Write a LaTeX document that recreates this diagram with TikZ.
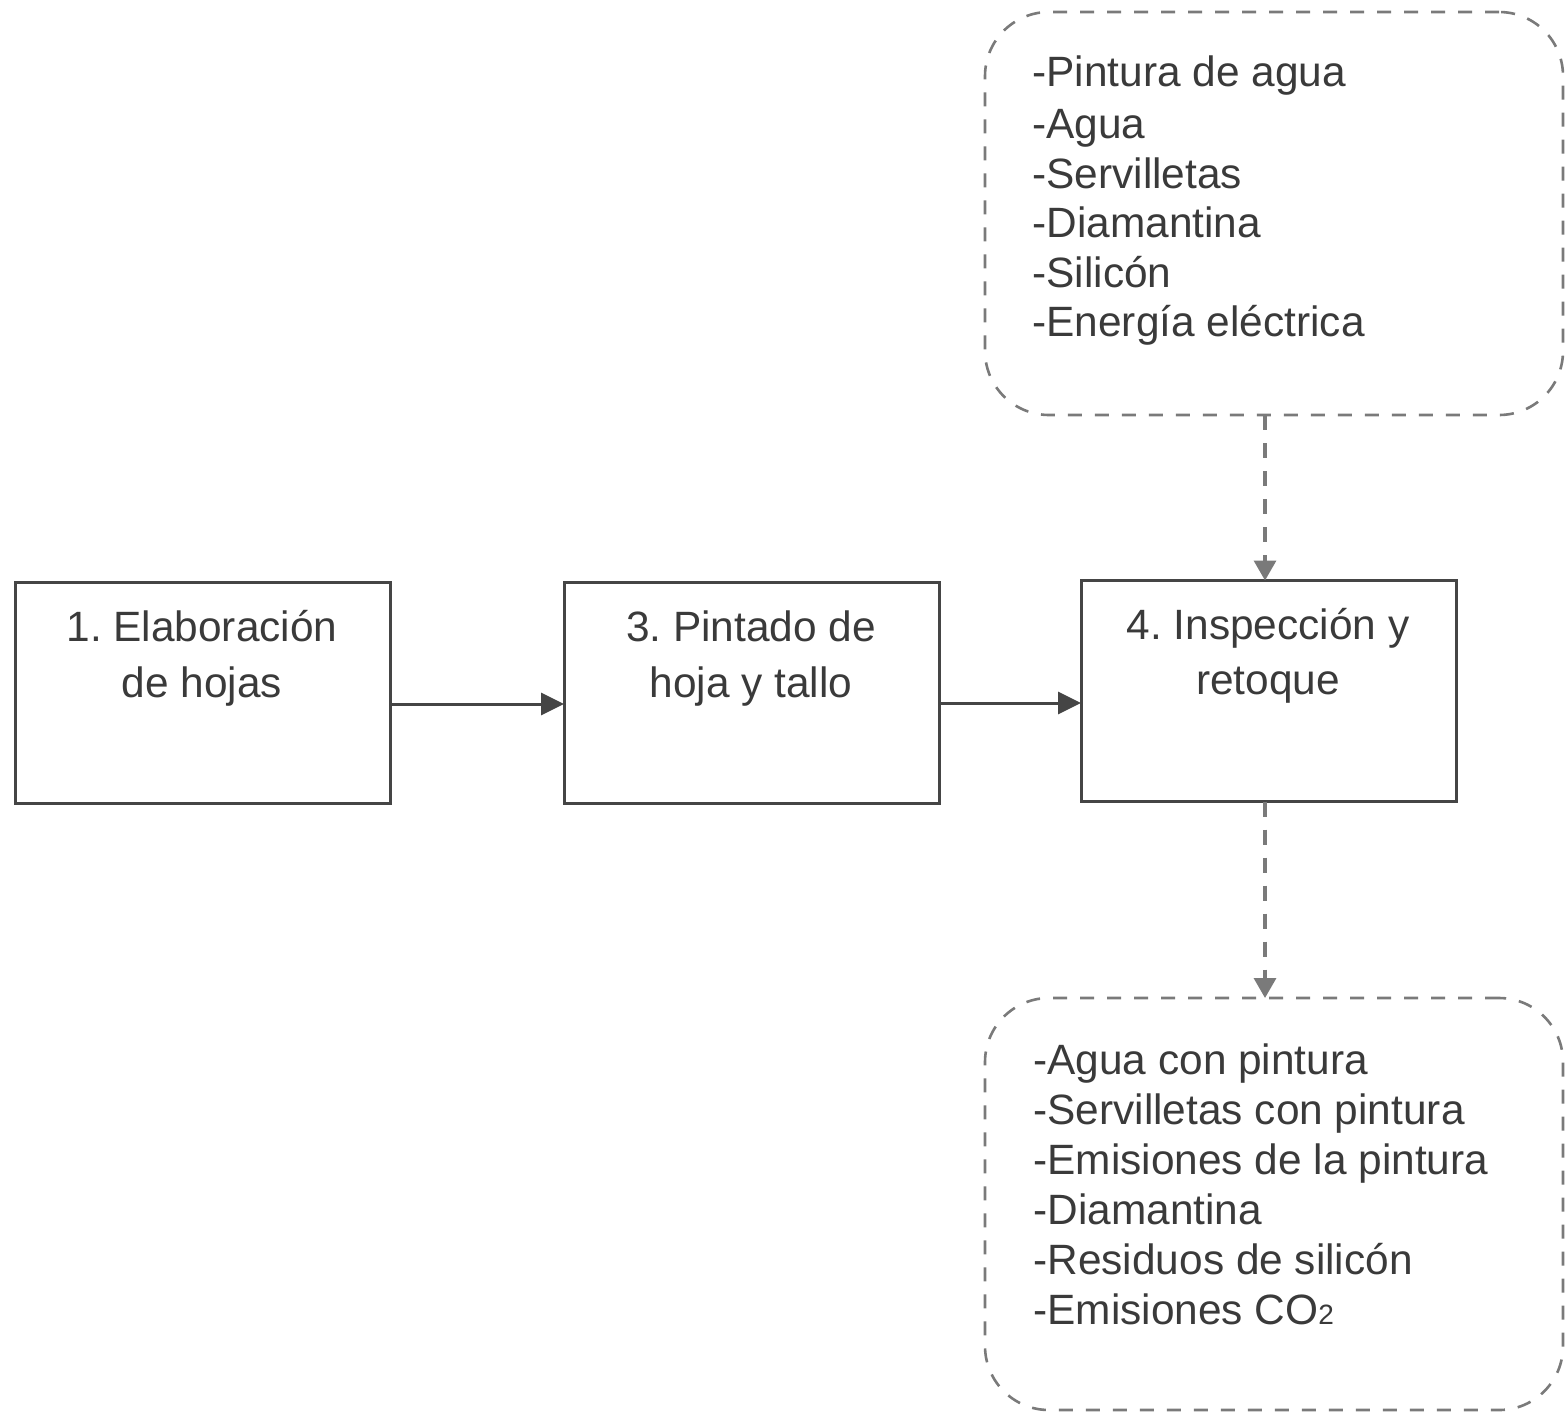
\documentclass[tikz,border=0pt]{standalone}
\usepackage{fontspec}
\setmainfont{Liberation Sans}
\usetikzlibrary{arrows.meta}
\definecolor{ink}{HTML}{3A3A3A}
\definecolor{boxline}{HTML}{454545}
\definecolor{dashgray}{HTML}{7A7A7A}
\frenchspacing
\tikzset{
  procbox/.style={draw=boxline, line width=1.5pt, minimum width=187.5pt, minimum height=110.5pt, inner sep=0pt, outer sep=0pt},
  listbox/.style={draw=dashgray, line width=1.3pt, dash pattern=on 7pt off 6.5pt, rounded corners=32pt, minimum width=289pt, inner sep=0pt, outer sep=0pt},
  txt/.style={font=\fontsize{21.2pt}{25pt}\selectfont, text=ink, inner sep=0pt, anchor=base},
  ltxt/.style={txt, anchor=base west},
  solidarr/.style={draw=boxline, line width=1.5pt, -{Triangle[length=11.5pt, width=11pt]}},
  dasharr/.style={draw=dashgray, line width=1.7pt, dash pattern=on 7.5pt off 6.5pt, -{Triangle[length=10pt, width=11pt]}}
}
\begin{document}
\begin{tikzpicture}[x=0.5pt, y=-0.5pt]
\useasboundingbox (0,0) rectangle (1567,1413);
% process boxes
\node[procbox] (b1) at (202.5,693) {};
\node[procbox] (b3) at (751.5,692.5) {};
\node[procbox] (b4) at (1268.5,691) {};
\node[txt] (b1a) at (202,641) {1. Elaboración};
\node[txt] (b1b) at (202,697) {de hojas};
\node[txt] (b3a) at (751,641) {3. Pintado de};
\node[txt] (b3b) at (751,697) {hoja y tallo};
\node[txt] (b4a) at (1268,639) {4. Inspección y};
\node[txt] (b4b) at (1268,694) {retoque};
% input box
\node[listbox, minimum height=201.5pt] (inb) at (1274,213.5) {};
\node[ltxt] (i1) at (1032,87) {-Pintura de agua};
\node[ltxt] (i2) at (1032,138) {-Agua};
\node[ltxt] (i3) at (1032,188) {-Servilletas};
\node[ltxt] (i4) at (1032,237) {-Diamantina};
\node[ltxt] (i5) at (1032,287) {-Silicón};
\node[ltxt] (i6) at (1032,336) {-Energía eléctrica};
% output box
\node[listbox, minimum height=206pt] (outb) at (1274,1204) {};
\node[ltxt] (o1) at (1033,1074) {-Agua con pintura};
\node[ltxt] (o2) at (1033,1124) {-Servilletas con pintura};
\node[ltxt] (o3) at (1033,1174) {-Emisiones de la pintura};
\node[ltxt] (o4) at (1033,1224) {-Diamantina};
\node[ltxt] (o5) at (1033,1274) {-Residuos de silicón};
\node[ltxt] (o6) at (1033,1324) {-Emisiones CO{\fontsize{14pt}{14pt}\selectfont 2}};
% connectors
\draw[solidarr] ([yshift=-5.5pt]b1.east) -- ([yshift=-5.5pt]b1.east -| b3.west);
\draw[solidarr] ([yshift=-5.25pt]b3.east) -- ([yshift=-5.25pt]b3.east -| b4.west);
\draw[dasharr] ([xshift=-4.5pt]inb.south) -- ([xshift=-4.5pt]inb.south |- b4.north);
\draw[dasharr] ([xshift=-1.75pt]b4.south) -- ([xshift=-1.75pt]b4.south |- outb.north);
\end{tikzpicture}
\end{document}
